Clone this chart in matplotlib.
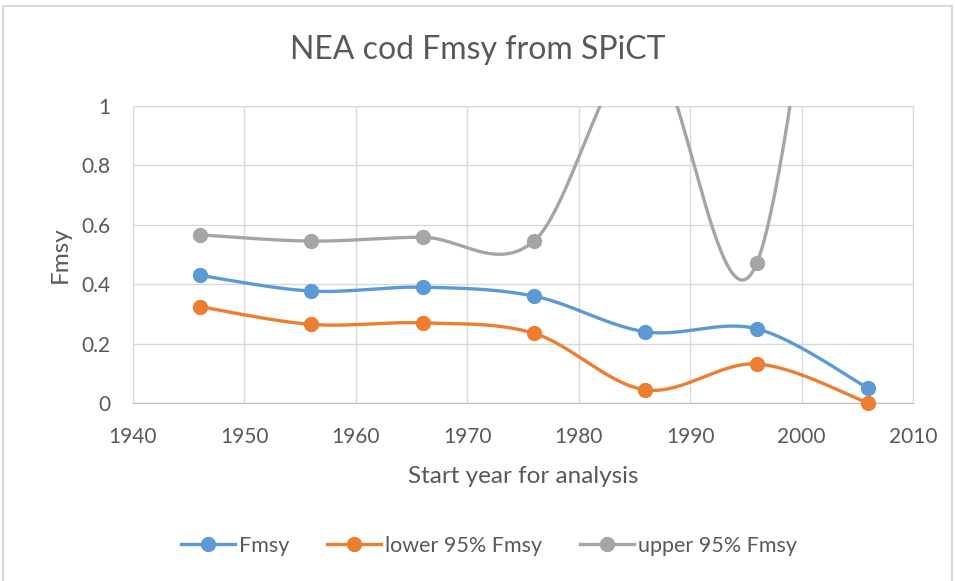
import numpy as np
import matplotlib.pyplot as plt
from matplotlib.patches import Rectangle

plt.rcParams['font.family'] = ['Lato', 'DejaVu Sans']

years = [1946, 1956, 1966, 1976, 1986, 1996, 2006]
fmsy = [0.43, 0.377, 0.39, 0.36, 0.24, 0.25, 0.05]
lower_95 = [0.325, 0.265, 0.27, 0.235, 0.045, 0.132, 0.0]
upper_95 = [0.566, 0.545, 0.558, 0.545, 1.2, 0.472, 3.05]

series = [
    ("Fmsy", fmsy, "#5B9BD5"),
    ("lower 95% Fmsy", lower_95, "#ED7D31"),
    ("upper 95% Fmsy", upper_95, "#A5A5A5"),
]


def excel_smooth(x, y, n=60):
    # Bezier smoothing like Excel's "smoothed line"
    x = np.asarray(x, float)
    y = np.asarray(y, float)
    px = np.concatenate([[x[0]], x, [x[-1]]])
    py = np.concatenate([[y[0]], y, [y[-1]]])
    t = np.linspace(0, 1, n)
    xs, ys = [], []
    for i in range(len(x) - 1):
        a = np.array([px[i + 1], py[i + 1]])
        d = np.array([px[i + 2], py[i + 2]])
        b = a + (d - np.array([px[i], py[i]])) / 6
        c = d - (np.array([px[i + 3], py[i + 3]]) - a) / 6
        pts = ((1 - t) ** 3)[:, None] * a + (3 * (1 - t) ** 2 * t)[:, None] * b \
            + (3 * (1 - t) * t ** 2)[:, None] * c + (t ** 3)[:, None] * d
        xs.append(pts[:, 0])
        ys.append(pts[:, 1])
    return np.concatenate(xs), np.concatenate(ys)


fig = plt.figure(figsize=(9.55, 5.81), dpi=100)
ax = fig.add_axes([0.139, 0.306, 0.817, 0.512])

for name, vals, color in series:
    sx, sy = excel_smooth(years, vals)
    ax.plot(sx, sy, color=color, linewidth=2.4, solid_capstyle='round', zorder=3)
    yv = np.array(vals)
    xv = np.array(years)
    keep = (yv >= 0) & (yv <= 1)
    ax.plot(xv[keep], yv[keep], 'o', color=color, markersize=10, clip_on=False, zorder=4)
    ax.plot([], [], '-o', color=color, linewidth=2.4, markersize=10, label=name)

ax.set_xlim(1940, 2010)
ax.set_ylim(0, 1)
ax.set_xticks(range(1940, 2011, 10))
ax.set_yticks([0, 0.2, 0.4, 0.6, 0.8, 1])
ax.set_yticklabels(['0', '0.2', '0.4', '0.6', '0.8', '1'])
ax.grid(True, color='#d9d9d9', linewidth=1)
ax.set_axisbelow(True)
for side in ['top', 'right', 'left']:
    ax.spines[side].set_color('#d9d9d9')
ax.spines['bottom'].set_color('#bfbfbf')
ax.tick_params(length=0, labelsize=15, colors='#595959')
ax.tick_params(axis='x', pad=17)
ax.tick_params(axis='y', pad=16)

ax.set_xlabel('Start year for analysis', fontsize=17.5, color='#595959', labelpad=14)
ax.set_ylabel('Fmsy', fontsize=17.5, color='#595959', labelpad=8)
fig.text(0.5, 0.914, 'NEA cod Fmsy from SPiCT', ha='center', va='center',
         fontsize=23, color='#595959')

fig.legend(loc='center', bbox_to_anchor=(0.512, 0.061), ncol=3, frameon=False,
           fontsize=15.5, labelcolor='#595959', handlelength=2.5, handletextpad=0.2,
           columnspacing=1.75)

fig.patches.append(Rectangle((0.003, -0.01), 0.994, 1.0, transform=fig.transFigure,
                             fill=False, edgecolor='#d9d9d9', linewidth=1.5))

fig.savefig('out.png', dpi=100, facecolor='white')
